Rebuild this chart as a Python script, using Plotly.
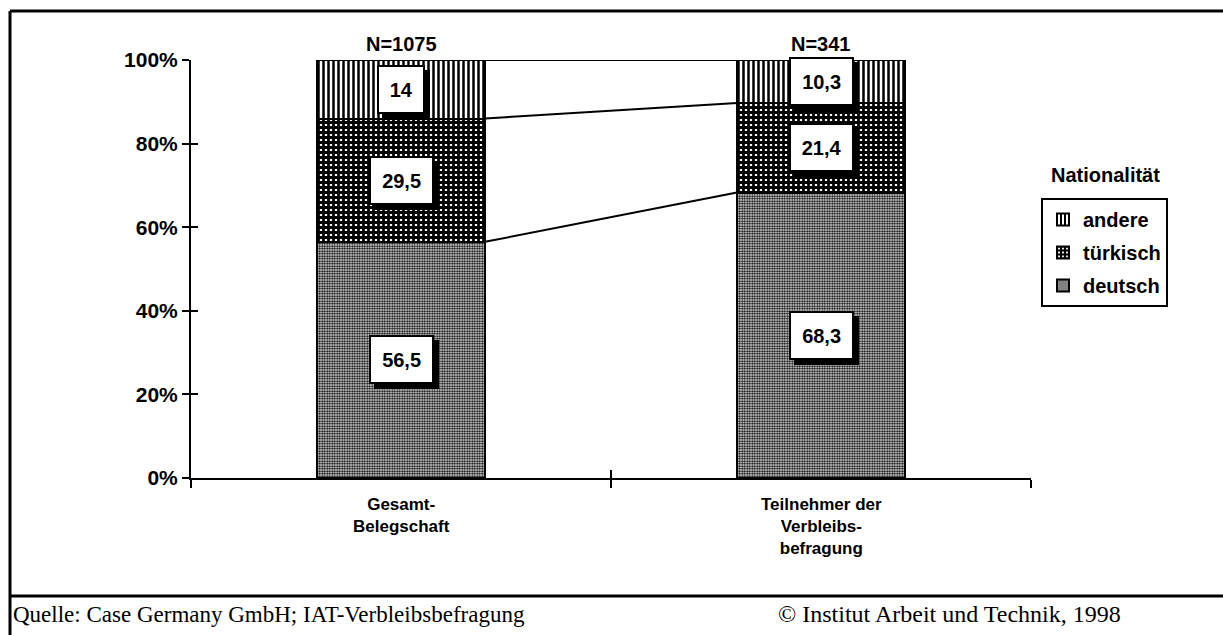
import plotly.graph_objects as go

# ---- data ----
categories = ["Gesamt-<br>Belegschaft", "Teilnehmer der<br>Verbleibs-<br>befragung"]
n_labels = ["N=1075", "N=341"]
series_names = ["deutsch", "türkisch", "andere"]
deutsch = [56.5, 68.3]
tuerkisch = [29.5, 21.4]
andere = [14.0, 10.3]
y_ticks = [0, 20, 40, 60, 80, 100]
y_tick_labels = ["0%", "20%", "40%", "60%", "80%", "100%"]
legend_title = "Nationalität"
footer_left = "Quelle: Case Germany GmbH; IAT-Verbleibsbefragung"
footer_right = "© Institut Arbeit und Technik, 1998"

# ---- style ----
W, H = 1223, 635
ML, MR, MT, MB = 191, 192, 60, 157
PW, PH = W - ML - MR, H - MT - MB
BAR_W = 0.4
SANS = "Liberation Sans, Arial, sans-serif"
SERIF = "Liberation Serif, Times New Roman, serif"

def px_x(px):
    return (px - ML) / PW

def px_y(py):
    return (H - MB - py) / PH

series = [deutsch, tuerkisch, andere]
patterns = [
    dict(shape=".", size=2.5, solidity=0.55, fgcolor="black", bgcolor="white", fillmode="replace"),
    dict(shape="+", size=5, solidity=0.8, fgcolor="black", bgcolor="white", fillmode="replace"),
    dict(shape="|", size=5, solidity=0.5, fgcolor="black", bgcolor="white", fillmode="replace"),
]
xpos = list(range(len(categories)))

fig = go.Figure()
n_series = len(series_names)
for k, (name, vals, pat) in enumerate(zip(series_names, series, patterns)):
    fig.add_trace(go.Bar(
        x=xpos, y=vals, name=name, width=BAR_W,
        legendgroup=name, legendrank=1000 + (n_series - k),
        marker=dict(color="white", pattern=pat, line=dict(color="black", width=2)),
        hoverinfo="skip",
    ))

# dummy trace for overlay axes (crossing ticks)
fig.add_trace(go.Scatter(x=[None], y=[None], xaxis="x2", yaxis="y2", showlegend=False, hoverinfo="skip"))

annotations = []
shapes = []

# cumulative values
cums = []
for i in range(len(categories)):
    c = 0
    col = []
    for s in series:
        c += s[i]
        col.append(c)
    cums.append(col)

def text_width(t):
    return sum(5.6 if ch == "," else 11.2 for ch in t) + 2

# value label boxes with shadow
for i in range(len(categories)):
    base = 0
    for s in series:
        v = s[i]
        mid = base + v / 2
        base += v
        txt = f"{v:g}".replace(".", ",")
        w = text_width(txt)
        # shadow
        annotations.append(dict(
            x=i, y=mid, xref="x", yref="y", text=" ", showarrow=False,
            width=w, height=25, bgcolor="black", bordercolor="black", borderwidth=2, borderpad=10,
            xshift=5, yshift=-5, font=dict(family=SANS, size=20),
        ))
        annotations.append(dict(
            x=i, y=mid, xref="x", yref="y", text=txt, showarrow=False,
            width=w, height=25,
            font=dict(family=SANS, size=20, color="black", weight="bold"),
            bgcolor="white", bordercolor="black", borderwidth=2, borderpad=10,
        ))

# N labels
for i, t in enumerate(n_labels):
    annotations.append(dict(
        x=i, y=100, xref="x", yref="y", text=t, showarrow=False, yanchor="bottom",
        yshift=3, font=dict(family=SANS, size=20, color="black", weight="bold"),
    ))

# category labels
for i, t in enumerate(categories):
    annotations.append(dict(
        x=i, y=0, xref="x", yref="y", text=t, showarrow=False, yanchor="top",
        yshift=-15, font=dict(family=SANS, size=17, color="black", weight="bold"),
    ))

# legend title
annotations.append(dict(
    x=px_x(1049), y=px_y(175), xref="paper", yref="paper", text=legend_title,
    showarrow=False, xanchor="left", yanchor="middle",
    font=dict(family=SANS, size=20, color="black", weight="bold"),
))

# footer
annotations.append(dict(
    x=px_x(11), y=px_y(614), xref="paper", yref="paper", text=footer_left,
    showarrow=False, xanchor="left", yanchor="middle",
    font=dict(family=SERIF, size=23, color="black"),
))
annotations.append(dict(
    x=px_x(776), y=px_y(614), xref="paper", yref="paper", text=footer_right,
    showarrow=False, xanchor="left", yanchor="middle",
    font=dict(family=SERIF, size=24, color="black"),
))

# connecting lines between bars
for k in range(len(series)):
    shapes.append(dict(
        type="line", xref="x", yref="y",
        x0=0 + BAR_W / 2, y0=cums[0][k], x1=1 - BAR_W / 2, y1=cums[1][k],
        line=dict(color="black", width=2), layer="below",
    ))

# outer frame
shapes += [
    dict(type="line", xref="paper", yref="paper", x0=px_x(10), x1=px_x(1260), y0=px_y(11), y1=px_y(11),
         line=dict(color="black", width=3)),
    dict(type="line", xref="paper", yref="paper", x0=px_x(10), x1=px_x(10), y0=px_y(11), y1=px_y(660),
         line=dict(color="black", width=3)),
    dict(type="line", xref="paper", yref="paper", x0=px_x(10), x1=px_x(1260), y0=px_y(596), y1=px_y(596),
         line=dict(color="black", width=3)),
]

axis_common = dict(showgrid=False, zeroline=False, linecolor="black", tickcolor="black")

fig.update_layout(
    width=W, height=H,
    margin=dict(l=ML, r=MR, t=MT, b=MB, pad=0),
    paper_bgcolor="white", plot_bgcolor="white",
    barmode="stack", bargap=0,
    font=dict(family=SANS, color="black"),
    xaxis=dict(range=[-0.5, 1.5], tickvals=[-0.5, 0.5, 1.5], showticklabels=False,
               ticks="outside", ticklen=8, tickwidth=2, showline=True, linewidth=2, **axis_common),
    yaxis=dict(range=[0, 100], tickmode="array", tickvals=y_ticks, ticktext=y_tick_labels,
               ticks="outside", ticklen=7, tickwidth=2, showline=True, linewidth=2,
               tickfont=dict(family=SANS, size=21, color="black", weight="bold"), **axis_common),
    xaxis2=dict(range=[-0.5, 1.5], overlaying="x", anchor="y2", tickvals=[-0.5, 0.5, 1.5],
                showticklabels=False, ticks="inside", ticklen=8, tickwidth=2, showline=False, **axis_common),
    yaxis2=dict(range=[0, 100], overlaying="y", anchor="x2", tickvals=y_ticks, showticklabels=False,
                ticks="inside", ticklen=7, tickwidth=2, showline=False, **axis_common),
    legend=dict(x=px_x(1041), y=px_y(198), xanchor="left", yanchor="top",
                traceorder="grouped", tracegroupgap=4,
                bordercolor="black", borderwidth=2, bgcolor="white",
                font=dict(family=SANS, size=20, color="black", weight="bold")),
    annotations=annotations,
    shapes=shapes,
    hovermode=False,
)

fig.write_html("out.html", config={"displayModeBar": False},
               post_script="document.body.style.margin='0';")
